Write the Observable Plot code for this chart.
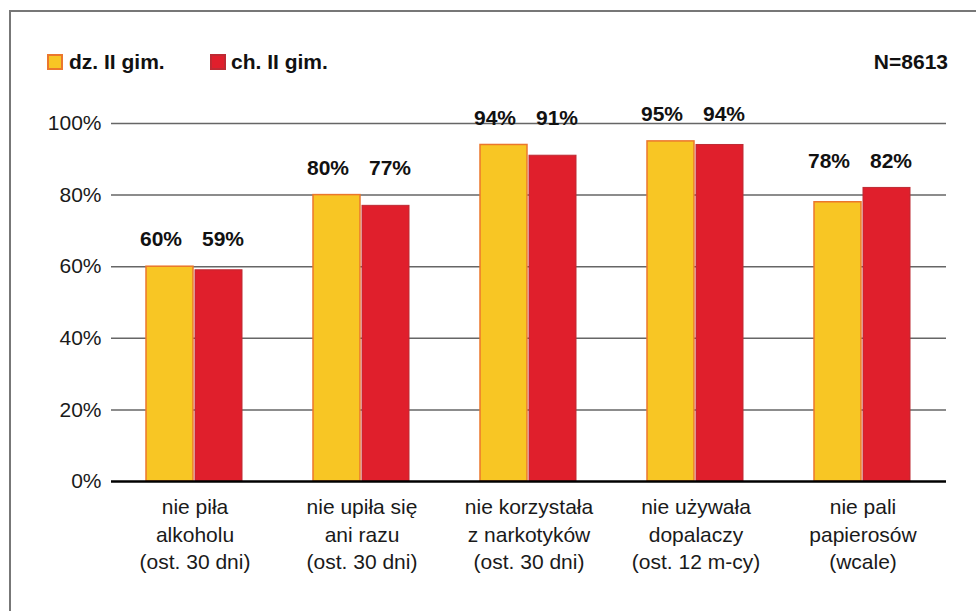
<!DOCTYPE html>
<html>
<head>
<meta charset="utf-8">
<script src="https://cdn.jsdelivr.net/npm/d3@7"></script>
<script src="https://cdn.jsdelivr.net/npm/@observablehq/plot@0.6"></script>
<style>
  body { margin: 0; background: #fff; font-family: "Liberation Sans", Arial, sans-serif; width: 976px; height: 611px; overflow: hidden; position: relative; }
  #frame { position: absolute; left: 9px; top: 10px; width: 1100px; height: 800px; border-left: 2px solid #777; border-top: 2px solid #777; }
  .leg { position: absolute; top: 52px; height: 20px; line-height: 20px; font-size: 21px; font-weight: bold; color: #111; white-space: nowrap; }
  #chart { position: absolute; left: 0; top: 80px; }
</style>
</head>
<body>
<div id="frame"></div>
<div id="legend"></div>
<div id="chart"></div>
<script>
const categories = [
  "nie piła\nalkoholu\n(ost. 30 dni)",
  "nie upiła się\nani razu\n(ost. 30 dni)",
  "nie korzystała\nz narkotyków\n(ost. 30 dni)",
  "nie używała\ndopalaczy\n(ost. 12 m-cy)",
  "nie pali\npapierosów\n(wcale)"
];
const series = ["dz. II gim.", "ch. II gim."];
const dzValues = [60, 80, 94, 95, 78];
const chValues = [59, 77, 91, 94, 82];
const yTicks = [0, 20, 40, 60, 80, 100];
const sampleNote = "N=8613";

const fills = {"dz. II gim.": "#F8C624", "ch. II gim.": "#E01F2C"};
const strokes = {"dz. II gim.": "#EB772C", "ch. II gim.": "#BE2A33"};

const rows = categories.flatMap((c, i) => [
  {category: c, series: series[0], value: dzValues[i], groupMax: Math.max(dzValues[i], chValues[i])},
  {category: c, series: series[1], value: chValues[i], groupMax: Math.max(dzValues[i], chValues[i])}
]);
const dzRows = rows.filter(d => d.series === series[0]);
const chRows = rows.filter(d => d.series === series[1]);

// Legend
const legend = document.getElementById("legend");
const legPos = [[47, 69], [210, 231]];
series.forEach((s, i) => {
  const sw = document.createElement("div");
  sw.style.cssText = `position:absolute;top:54px;left:${legPos[i][0]}px;width:12px;height:12px;background:${fills[s]};border:2px solid ${strokes[s]};`;
  legend.appendChild(sw);
  const t = document.createElement("div");
  t.className = "leg";
  t.style.left = legPos[i][1] + "px";
  t.textContent = s;
  legend.appendChild(t);
});
const n = document.createElement("div");
n.className = "leg";
n.style.right = (976 - 948) + "px";
n.textContent = sampleNote;
legend.appendChild(n);

const chart = Plot.plot({
  width: 976,
  height: 531,
  marginTop: 43,
  marginBottom: 130,
  marginLeft: 110,
  marginRight: 30,
  style: {fontFamily: "Liberation Sans, Arial, sans-serif", background: "transparent", color: "#1a1a1a"},
  fx: {domain: categories, paddingInner: 0, paddingOuter: 0, label: null, axis: null},
  x: {domain: series, paddingInner: 0.04, paddingOuter: 0.71, axis: null},
  y: {domain: [0, 100], axis: null},
  marks: [
    Plot.ruleY(yTicks.filter(d => d > 0), {stroke: "#666", strokeWidth: 1.5}),
    Plot.barY(dzRows, {fx: "category", x: "series", y: "value", fill: fills[series[0]], stroke: strokes[series[0]], strokeWidth: 1.5}),
    Plot.barY(chRows, {fx: "category", x: "series", y: "value", fill: fills[series[1]], stroke: strokes[series[1]], strokeWidth: 1}),
    Plot.ruleY([0], {stroke: "#000", strokeWidth: 2.5}),
    Plot.text(dzRows, {fx: "category", x: "series", y: "groupMax", text: d => d.value + "%", dy: -27, dx: -9, fontWeight: "bold", fontSize: 21, fill: "#111"}),
    Plot.text(chRows, {fx: "category", x: "series", y: "groupMax", text: d => d.value + "%", dy: -27, dx: 4, fontWeight: "bold", fontSize: 21, fill: "#111"}),
    Plot.axisY(yTicks, {tickFormat: d => d + "%", tickSize: 0, tickPadding: 10, fontSize: 21, label: null, fill: "#1a1a1a"}),
    Plot.axisFx({anchor: "bottom", tickSize: 0, tickPadding: 13, fontSize: 21, lineHeight: 1.31, label: null, fill: "#1a1a1a"})
  ]
});
document.getElementById("chart").appendChild(chart);
</script>
</body>
</html>
